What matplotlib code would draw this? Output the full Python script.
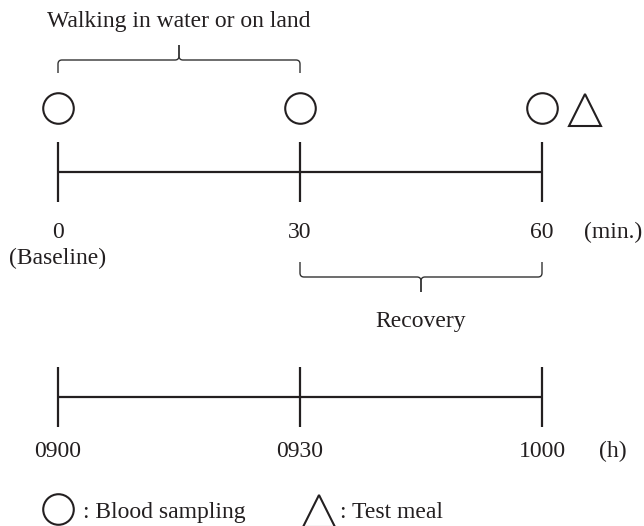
import matplotlib
matplotlib.use("Agg")
import matplotlib.pyplot as plt
import matplotlib.transforms as mtransforms
from matplotlib.path import Path
from matplotlib.patches import PathPatch

plt.rcParams['font.family'] = ['Liberation Serif', 'DejaVu Serif']

# 数据
minutes = [0, 30, 60]
minute_labels = ['0', '30', '60']
clock_labels = ['0900', '0930', '1000']
sampling_times = [0, 30, 60]
meal_time = 60
walking_period = (0, 30)
recovery_period = (30, 60)

# 像素 -> 分钟 的比例
px_per_min = (542 - 58) / 60.0
fig = plt.figure(figsize=(6.44, 5.26), dpi=100)
ax = fig.add_axes([0, 0, 1, 1])
ax.set_xlim(-58 / px_per_min, (644 - 58) / px_per_min)
ax.set_ylim(526, 0)
ax.axis('off')

lw = 1.6
fs = 17
tc = '#231f20'


def draw_timeline(y_line, half):
    ax.plot([minutes[0], minutes[-1]], [y_line, y_line], color=tc, lw=lw,
            solid_capstyle='butt')
    for m in minutes:
        ax.plot([m, m], [y_line - half, y_line + half], color=tc, lw=lw,
                solid_capstyle='butt')


def draw_brace(x0, x1, y_end, y_h, y_tip, r=4):
    rx = r / px_per_min
    xc = (x0 + x1) / 2.0
    s = 1 if y_tip < y_h else -1  # 尖端方向
    for xe, d in [(x0, 1), (x1, -1)]:
        verts = [(xe, y_end), (xe, y_h + s * r), (xe, y_h), (xe + d * rx, y_h),
                 (xc - d * rx, y_h), (xc, y_h), (xc, y_h - s * r), (xc, y_tip)]
        codes = [Path.MOVETO, Path.LINETO, Path.CURVE3, Path.CURVE3,
                 Path.LINETO, Path.CURVE3, Path.CURVE3, Path.LINETO]
        ax.add_patch(PathPatch(Path(verts, codes), fill=False,
                               edgecolor='#333333', lw=1.0))


# 上方时间轴
draw_timeline(172, 30)
for m, lab in zip(minutes, minute_labels):
    ax.text(m, 238, lab, ha='center', va='baseline', fontsize=fs, color=tc)
ax.text(0, 264, '(Baseline)', ha='center', va='baseline', fontsize=fs, color=tc)
ax.text((613 - 58) / px_per_min, 238, '(min.)', ha='center', va='baseline',
        fontsize=fs, color=tc)

# 采血点与试餐
ax.plot(sampling_times, [108] * len(sampling_times), 'o', ms=22, mfc='none',
        mec=tc, mew=1.5)
tri_tr = ax.transData + mtransforms.ScaledTranslation(43 / 100.0, 0, fig.dpi_scale_trans)
ax.plot([meal_time], [110], '^', ms=23, mfc='none', mec=tc, mew=1.5,
        transform=tri_tr)

# 括号
draw_brace(walking_period[0], walking_period[1], 73, 60, 45)
ax.text(sum(walking_period) / 2.0, 27, 'Walking in water or on land', ha='center',
        va='baseline', fontsize=fs, color=tc)
draw_brace(recovery_period[0], recovery_period[1], 262, 277, 292)
ax.text(sum(recovery_period) / 2.0, 327, 'Recovery', ha='center', va='baseline',
        fontsize=fs, color=tc)

# 下方时间轴
draw_timeline(397, 30)
for m, lab in zip(minutes, clock_labels):
    ax.text(m, 457, lab, ha='center', va='baseline', fontsize=fs, color=tc)
ax.text((613 - 58) / px_per_min, 457, '(h)', ha='center', va='baseline', fontsize=fs,
        color=tc)

# 图例
ax.plot([0], [509], 'o', ms=22, mfc='none', mec=tc, mew=1.5)
ax.text((83 - 58) / px_per_min, 518, ': Blood sampling', ha='left', va='baseline',
        fontsize=fs, color=tc)
ax.plot([(319 - 58) / px_per_min], [511], '^', ms=23, mfc='none', mec=tc, mew=1.5)
ax.text((340 - 58) / px_per_min, 518, ': Test meal', ha='left', va='baseline',
        fontsize=fs, color=tc)

fig.savefig('out.png', dpi=100)
